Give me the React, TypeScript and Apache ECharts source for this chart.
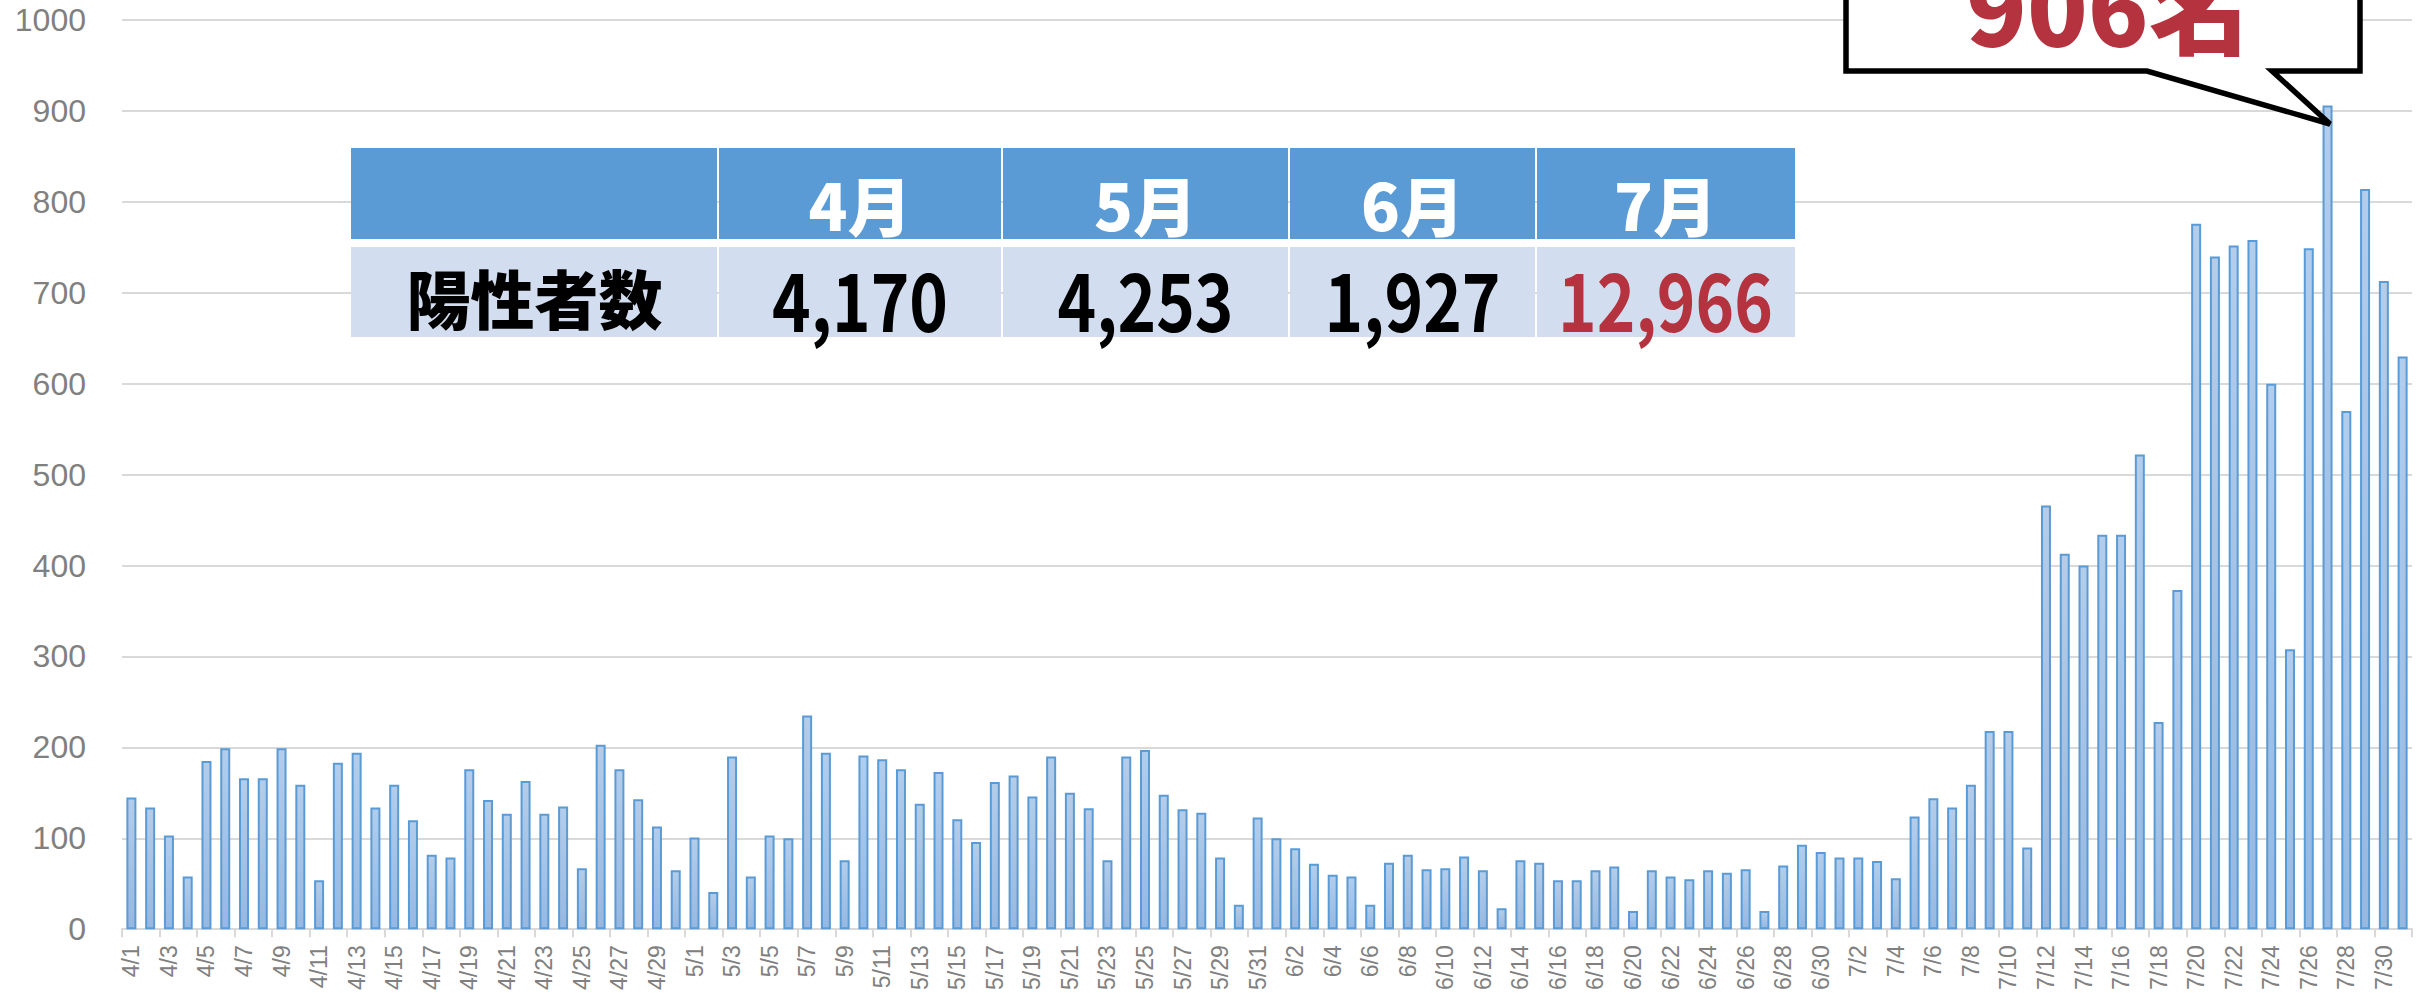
import React, { useEffect, useRef } from "react";
import * as echarts from "echarts";

// ---- data ----
const monthNumbers = [4, 5, 6, 7];
const monthDays = [30, 31, 30, 31];
const aprilValues = [145, 134, 103, 58, 185, 199, 166, 166, 199, 159, 54, 183, 194, 134, 159, 120, 82, 79, 176, 142, 127, 163, 127, 135, 67, 203, 176, 143, 113, 65];
const mayValues = [101, 41, 190, 58, 103, 100, 235, 194, 76, 191, 187, 176, 138, 173, 121, 96, 162, 169, 146, 190, 150, 133, 76, 190, 197, 148, 132, 128, 79, 27, 123];
const juneValues = [100, 89, 72, 60, 58, 27, 73, 82, 66, 67, 80, 65, 23, 76, 73, 54, 54, 65, 69, 20, 65, 58, 55, 65, 62, 66, 20, 70, 93, 85];
const julyValues = [79, 79, 75, 56, 124, 144, 134, 159, 218, 218, 90, 466, 413, 400, 434, 434, 522, 228, 373, 776, 740, 752, 758, 600, 308, 749, 906, 570, 814, 713, 630];
const yMin = 0;
const yMax = 1000;
const yInterval = 100;
const tableHeaders = ["4月", "5月", "6月", "7月"];
const tableRowLabel = "陽性者数";
const tableTotals = ["4,170", "4,253", "1,927", "12,966"];
const calloutText = "906名";

const categories: string[] = [];
monthNumbers.forEach((m, i) => {
  for (let d = 1; d <= monthDays[i]; d++) categories.push(`${m}/${d}`);
});
const values = [...aprilValues, ...mayValues, ...juneValues, ...julyValues];

// ---- layout ----
const W = 2427;
const H = 993;
const colEdges = [351, 718, 1002, 1289, 1536, 1795];
const headTop = 148, headBottom = 239, rowTop = 247, rowBottom = 337;
const RED = "#b5333f";
const CJK = "'Noto Sans CJK JP', 'Noto Sans', sans-serif";

function buildGraphics() {
  const g: any[] = [];
  for (let i = 0; i < 5; i++) {
    const x0 = colEdges[i] + (i > 0 ? 1 : 0);
    const x1 = colEdges[i + 1] - (i < 4 ? 1 : 0);
    g.push({
      type: "rect", z: 50,
      shape: { x: x0, y: headTop, width: x1 - x0, height: headBottom - headTop },
      style: { fill: "#5b9bd5" },
    });
    g.push({
      type: "rect", z: 50,
      shape: { x: x0, y: rowTop, width: x1 - x0, height: rowBottom - rowTop },
      style: { fill: "#d2deef" },
    });
  }
  tableHeaders.forEach((t, i) => {
    const cx = (colEdges[i + 1] + colEdges[i + 2]) / 2;
    g.push({
      type: "text", z: 60, x: cx, y: 203, scaleX: 1.0,
      style: {
        text: t, fill: "#ffffff", fontSize: 64, fontWeight: 900, fontFamily: CJK,
        align: "center", verticalAlign: "middle", textAlign: "center", textVerticalAlign: "middle",
      },
    });
  });
  g.push({
    type: "text", z: 60, x: (colEdges[0] + colEdges[1]) / 2, y: 296,
    style: {
      text: tableRowLabel, fill: "#000000", fontSize: 64, fontWeight: 900, fontFamily: CJK,
      align: "center", verticalAlign: "middle", textAlign: "center", textVerticalAlign: "middle",
    },
  });
  tableTotals.forEach((t, i) => {
    const cx = (colEdges[i + 1] + colEdges[i + 2]) / 2;
    g.push({
      type: "text", z: 60, x: cx, y: 297, scaleX: 0.82,
      style: {
        text: t, fill: i === 3 ? RED : "#000000", fontSize: 80, fontWeight: 700, fontFamily: CJK,
        align: "center", verticalAlign: "middle", textAlign: "center", textVerticalAlign: "middle",
      },
    });
  });
  // callout
  g.push({
    type: "polygon", z: 70,
    shape: {
      points: [[1846, -30], [2360, -30], [2360, 71], [2272, 71], [2330, 124], [2147, 71], [1846, 71]],
    },
    style: { fill: "#ffffff", stroke: "#000000", lineWidth: 5.5, lineJoin: "miter" },
  });
  g.push({
    type: "text", z: 80, x: 1966, y: 3,
    style: {
      text: calloutText, fill: RED, fontSize: 100, fontWeight: 900, fontFamily: CJK,
      align: "left", verticalAlign: "middle", textAlign: "left", textVerticalAlign: "middle",
    },
  });
  return g;
}

export default function App() {
  const ref = useRef<HTMLDivElement>(null);
  useEffect(() => {
    const chart = echarts.init(ref.current!, null, { renderer: "svg" });
    chart.setOption({
      animation: false,
      backgroundColor: "#ffffff",
      grid: { left: 122, right: 15, top: 20, bottom: H - 930, containLabel: false },
      xAxis: {
        type: "category",
        data: categories,
        boundaryGap: true,
        axisLine: { show: true, lineStyle: { color: "#d9d9d9", width: 2 } },
        axisTick: { show: true, interval: 1, length: 8, lineStyle: { color: "#d9d9d9", width: 2 } },
        axisLabel: {
          interval: 1, rotate: 90, margin: 16, color: "#808080", fontSize: 23,
          fontFamily: "'Liberation Sans', Arial, sans-serif",
        },
        splitLine: { show: false },
      },
      yAxis: {
        type: "value",
        min: yMin, max: yMax, interval: yInterval,
        axisLine: { show: false },
        axisTick: { show: false },
        axisLabel: {
          margin: 36, color: "#808080", fontSize: 32,
          fontFamily: "'Liberation Sans', Arial, sans-serif",
          formatter: (v: number) => String(v),
        },
        splitLine: { show: true, lineStyle: { color: "#d9d9d9", width: 2 } },
      },
      series: [
        {
          type: "bar",
          data: values,
          barWidth: 10,
          itemStyle: {
            color: new echarts.graphic.LinearGradient(0, 0, 0, 1, [
              { offset: 0, color: "#b3cdeb" },
              { offset: 1, color: "#96b8e1" },
            ]),
            borderColor: "#5b9bd5",
            borderWidth: 2,
          },
        },
      ],
      graphic: buildGraphics(),
    });
    return () => chart.dispose();
  }, []);
  return (
    <div
      ref={ref}
      style={{ position: "fixed", left: 0, top: 0, width: W, height: H, background: "#fff" }}
    />
  );
}
